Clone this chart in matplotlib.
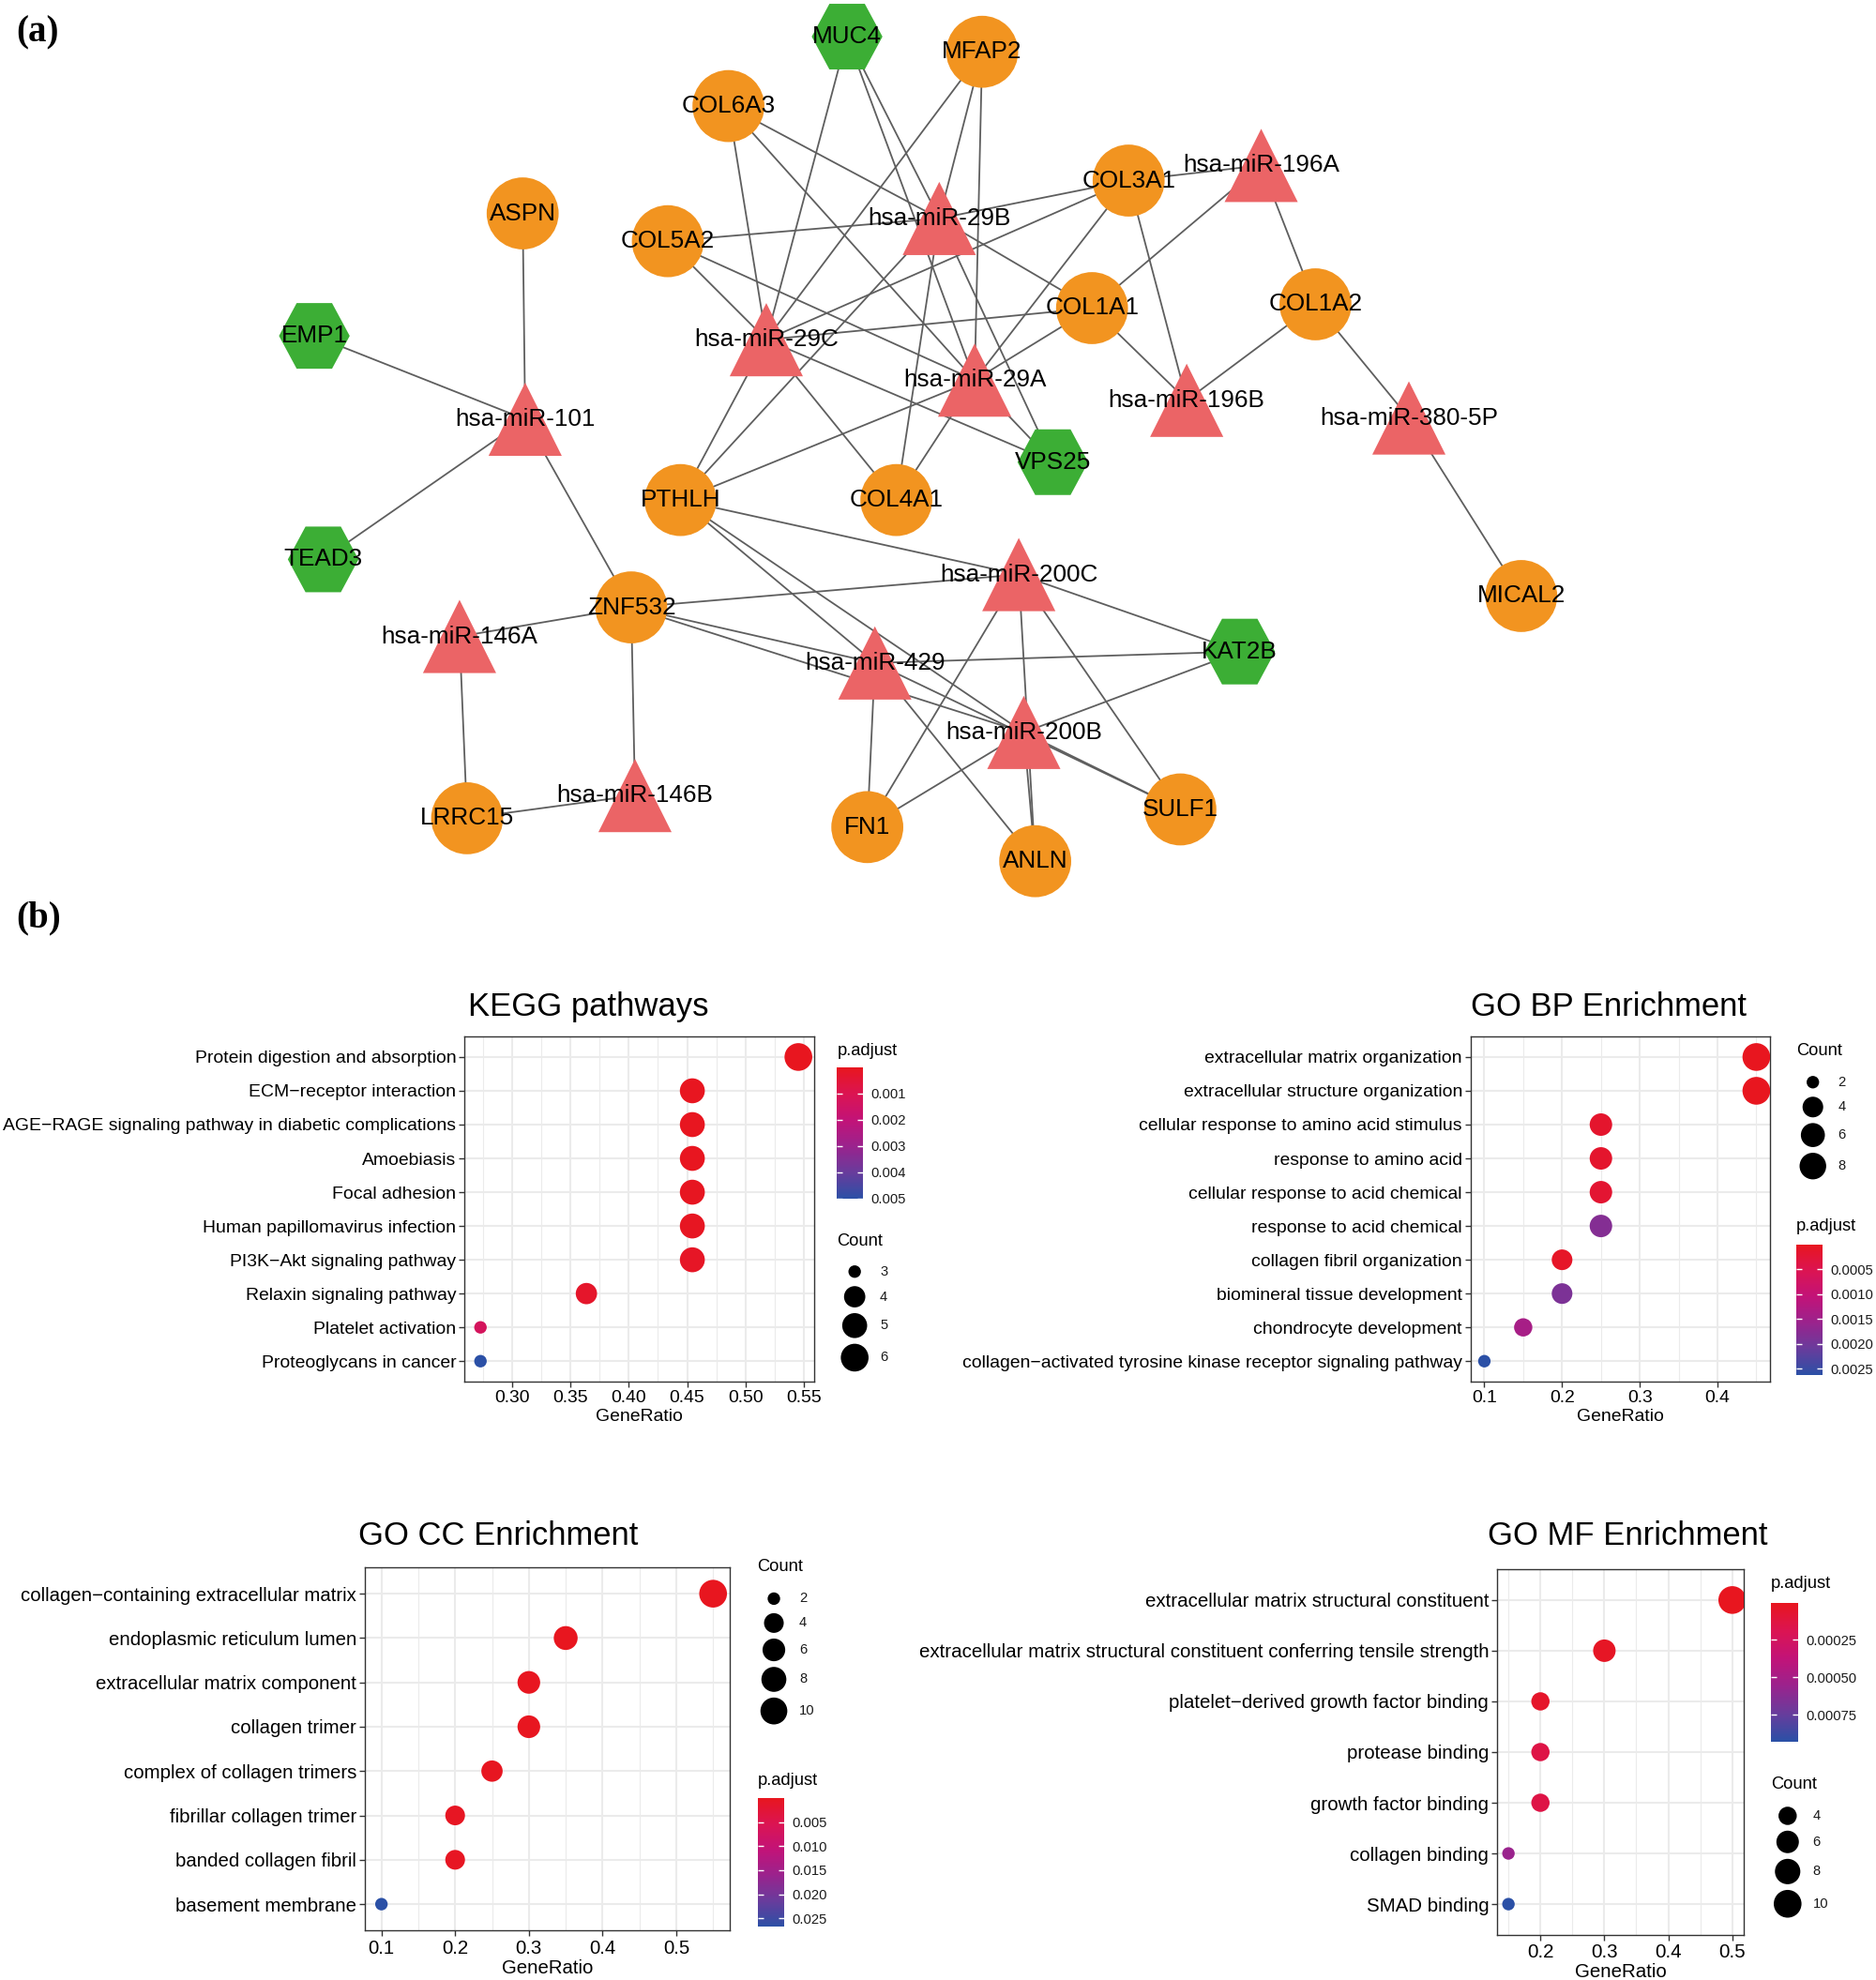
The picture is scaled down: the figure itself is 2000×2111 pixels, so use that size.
import numpy as np
import matplotlib
matplotlib.use("Agg")
import matplotlib.pyplot as plt
from matplotlib.colors import LinearSegmentedColormap, Normalize
from matplotlib.patches import Circle, Polygon

plt.rcParams['font.family'] = ['Liberation Sans', 'DejaVu Sans']

# ------------------------------------------------------------------ data
# network (a): node positions in layout units (1486 x 1568 canvas, y down)
node_names = ["MUC4", "MFAP2", "COL6A3", "ASPN", "COL5A2", "hsa-miR-29B", "COL3A1",
              "hsa-miR-196A", "EMP1", "hsa-miR-29C", "COL1A1", "COL1A2", "hsa-miR-29A",
              "hsa-miR-196B", "hsa-miR-380-5P", "hsa-miR-101", "VPS25", "PTHLH", "COL4A1",
              "TEAD3", "hsa-miR-200C", "MICAL2", "ZNF532", "hsa-miR-146A", "KAT2B",
              "hsa-miR-429", "hsa-miR-200B", "hsa-miR-146B", "LRRC15", "FN1", "SULF1", "ANLN"]
node_x = [671, 778, 577, 414, 529, 744, 894, 999, 249, 607, 865, 1042, 772, 940, 1116,
          416, 834, 539, 710, 256, 807, 1205, 500, 364, 982, 693, 811, 503, 370, 687, 935, 820]
node_y = [29, 41, 84, 169, 191, 173, 143, 131, 266, 269, 244, 241, 301, 317, 331, 332,
          366, 396, 396, 443, 455, 472, 481, 504, 516, 525, 580, 630, 648, 655, 641, 682]
node_kind = ["tf", "gene", "gene", "gene", "gene", "mir", "gene", "mir", "tf", "mir", "gene",
             "gene", "mir", "mir", "mir", "mir", "tf", "gene", "gene", "tf", "mir", "gene",
             "gene", "mir", "tf", "mir", "mir", "mir", "gene", "gene", "gene", "gene"]
edge_a = ["ASPN", "EMP1", "TEAD3", "ZNF532", "ZNF532", "ZNF532", "LRRC15", "LRRC15",
          "ZNF532", "ZNF532", "ZNF532", "PTHLH", "PTHLH", "PTHLH", "PTHLH", "PTHLH", "PTHLH",
          "KAT2B", "KAT2B", "KAT2B", "FN1", "FN1", "FN1", "ANLN", "ANLN", "ANLN",
          "SULF1", "SULF1", "SULF1", "MUC4", "MUC4", "MUC4", "MFAP2", "MFAP2", "MFAP2",
          "COL6A3", "COL6A3", "COL6A3", "COL5A2", "COL5A2", "COL5A2",
          "COL3A1", "COL3A1", "COL3A1", "COL3A1", "COL3A1",
          "COL1A1", "COL1A1", "COL1A1", "COL1A1", "COL1A1",
          "COL1A2", "COL1A2", "COL1A2", "MICAL2", "VPS25", "VPS25", "VPS25",
          "COL4A1", "COL4A1", "COL4A1"]
edge_b = ["hsa-miR-101", "hsa-miR-101", "hsa-miR-101", "hsa-miR-101", "hsa-miR-146A",
          "hsa-miR-146B", "hsa-miR-146A", "hsa-miR-146B", "hsa-miR-200C", "hsa-miR-429",
          "hsa-miR-200B", "hsa-miR-200C", "hsa-miR-429", "hsa-miR-200B", "hsa-miR-29C",
          "hsa-miR-29B", "hsa-miR-29A", "hsa-miR-200C", "hsa-miR-429", "hsa-miR-200B",
          "hsa-miR-429", "hsa-miR-200C", "hsa-miR-200B", "hsa-miR-429", "hsa-miR-200B",
          "hsa-miR-200C", "hsa-miR-200C", "hsa-miR-200B", "hsa-miR-429",
          "hsa-miR-29C", "hsa-miR-29B", "hsa-miR-29A", "hsa-miR-29C", "hsa-miR-29B", "hsa-miR-29A",
          "hsa-miR-29C", "hsa-miR-29B", "hsa-miR-29A", "hsa-miR-29C", "hsa-miR-29B", "hsa-miR-29A",
          "hsa-miR-29C", "hsa-miR-29B", "hsa-miR-29A", "hsa-miR-196A", "hsa-miR-196B",
          "hsa-miR-29C", "hsa-miR-29B", "hsa-miR-29A", "hsa-miR-196A", "hsa-miR-196B",
          "hsa-miR-196A", "hsa-miR-196B", "hsa-miR-380-5P", "hsa-miR-380-5P",
          "hsa-miR-29C", "hsa-miR-29B", "hsa-miR-29A",
          "hsa-miR-29C", "hsa-miR-29B", "hsa-miR-29A"]

# KEGG
kegg_terms = ["Protein digestion and absorption", "ECM\u2212receptor interaction",
              "AGE\u2212RAGE signaling pathway in diabetic complications", "Amoebiasis",
              "Focal adhesion", "Human papillomavirus infection", "PI3K\u2212Akt signaling pathway",
              "Relaxin signaling pathway", "Platelet activation", "Proteoglycans in cancer"]
kegg_ratio = [0.5455, 0.4545, 0.4545, 0.4545, 0.4545, 0.4545, 0.4545, 0.3636, 0.2727, 0.2727]
kegg_count = [6, 5, 5, 5, 5, 5, 5, 4, 3, 3]
kegg_padj = [1.2e-5, 4.0e-5, 4.0e-5, 4.5e-5, 6.0e-5, 8.0e-5, 1.5e-4, 2.6e-4, 1.3e-3, 5.02e-3]
kegg_xticks = [0.30, 0.35, 0.40, 0.45, 0.50, 0.55]
kegg_cticks = [0.001, 0.002, 0.003, 0.004, 0.005]
kegg_cticklabels = ["0.001", "0.002", "0.003", "0.004", "0.005"]
kegg_sbreaks = [3, 4, 5, 6]

# GO BP
bp_terms = ["extracellular matrix organization", "extracellular structure organization",
            "cellular response to amino acid stimulus", "response to amino acid",
            "cellular response to acid chemical", "response to acid chemical",
            "collagen fibril organization", "biomineral tissue development",
            "chondrocyte development",
            "collagen\u2212activated tyrosine kinase receptor signaling pathway"]
bp_ratio = [0.45, 0.45, 0.25, 0.25, 0.25, 0.25, 0.20, 0.20, 0.15, 0.10]
bp_count = [9, 9, 5, 5, 5, 5, 4, 4, 3, 2]
bp_padj = [5e-7, 5e-7, 1.5e-4, 1.5e-4, 2.0e-4, 1.8e-3, 1.0e-4, 1.9e-3, 1.4e-3, 2.63e-3]
bp_xticks = [0.1, 0.2, 0.3, 0.4]
bp_cticks = [0.0005, 0.0010, 0.0015, 0.0020, 0.0025]
bp_cticklabels = ["0.0005", "0.0010", "0.0015", "0.0020", "0.0025"]
bp_sbreaks = [2, 4, 6, 8]

# GO CC
cc_terms = ["collagen\u2212containing extracellular matrix", "endoplasmic reticulum lumen",
            "extracellular matrix component", "collagen trimer", "complex of collagen trimers",
            "fibrillar collagen trimer", "banded collagen fibril", "basement membrane"]
cc_ratio = [0.55, 0.35, 0.30, 0.30, 0.25, 0.20, 0.20, 0.10]
cc_count = [11, 7, 6, 6, 5, 4, 4, 2]
cc_padj = [1e-7, 1e-4, 2e-4, 2e-4, 3e-4, 5e-4, 5e-4, 0.0268]
cc_xticks = [0.1, 0.2, 0.3, 0.4, 0.5]
cc_cticks = [0.005, 0.010, 0.015, 0.020, 0.025]
cc_cticklabels = ["0.005", "0.010", "0.015", "0.020", "0.025"]
cc_sbreaks = [2, 4, 6, 8, 10]

# GO MF
mf_terms = ["extracellular matrix structural constituent",
            "extracellular matrix structural constituent conferring tensile strength",
            "platelet\u2212derived growth factor binding", "protease binding",
            "growth factor binding", "collagen binding", "SMAD binding"]
mf_ratio = [0.50, 0.30, 0.20, 0.20, 0.20, 0.15, 0.15]
mf_count = [10, 6, 4, 4, 4, 3, 3]
mf_padj = [6.3e-6, 3e-5, 5e-5, 1.5e-4, 1.5e-4, 5.6e-4, 9.27e-4]
mf_xticks = [0.2, 0.3, 0.4, 0.5]
mf_cticks = [0.00025, 0.00050, 0.00075]
mf_cticklabels = ["0.00025", "0.00050", "0.00075"]
mf_sbreaks = [4, 6, 8, 10]

# ------------------------------------------------------------------ style
W, H = 1486.0, 1568.0
C_GENE, C_TF, C_MIR, C_EDGE = "#F29420", "#3CAE35", "#EB6466", "#5E5E5E"
cmap = LinearSegmentedColormap.from_list(
    "padj", [(0.0, "#E8161F"), (0.2, "#DB1452"), (0.4, "#C21378"),
             (0.6, "#9A238D"), (0.8, "#683C9C"), (1.0, "#2B50A6")])
DMIN, DMAX = 9.6, 21.3   # point diameters (pt)


def rect(x0, y0, x1, y1):
    return [x0 / W, 1 - y1 / H, (x1 - x0) / W, (y1 - y0) / H]


def dsize(c, counts):
    t = (c - min(counts)) / (max(counts) - min(counts))
    return (DMIN + (DMAX - DMIN) * np.sqrt(t)) ** 2


fig = plt.figure(figsize=(20, 21.11), dpi=100)
ov = fig.add_axes([0, 0, 1, 1])
ov.set_xlim(0, W)
ov.set_ylim(H, 0)
ov.axis("off")

# ------------------------------------------------------------------ network
pos = {n: (x, y) for n, x, y in zip(node_names, node_x, node_y)}
for a, b in zip(edge_a, edge_b):
    (xa, ya), (xb, yb) = pos[a], pos[b]
    ov.plot([xa, xb], [ya, yb], color=C_EDGE, lw=1.3, zorder=1, solid_capstyle="butt")

R = 28.5
TW, TH = 58, 58
HW, HH = 56, 52
for n, x, y, k in zip(node_names, node_x, node_y, node_kind):
    if k == "gene":
        ov.add_patch(Circle((x, y), R, facecolor=C_GENE, edgecolor="none", zorder=2))
    elif k == "tf":
        verts = [(x - HW / 2, y), (x - HW / 4, y - HH / 2), (x + HW / 4, y - HH / 2),
                 (x + HW / 2, y), (x + HW / 4, y + HH / 2), (x - HW / 4, y + HH / 2)]
        ov.add_patch(Polygon(verts, closed=True, facecolor=C_TF, edgecolor="none", zorder=2))
    else:
        verts = [(x, y - TH / 2), (x - TW / 2, y + TH / 2), (x + TW / 2, y + TH / 2)]
        ov.add_patch(Polygon(verts, closed=True, facecolor=C_MIR, edgecolor="none", zorder=2))
    ov.text(x, y, n, ha="center", va="center", fontsize=18.8, color="black", zorder=3)

fig.text(13 / W, 1 - 26 / H, "(a)", ha="left", va="center", fontsize=28,
         fontweight="bold", family=["Liberation Serif", "DejaVu Serif"])
fig.text(13 / W, 1 - 727 / H, "(b)", ha="left", va="center", fontsize=28,
         fontweight="bold", family=["Liberation Serif", "DejaVu Serif"])


# ------------------------------------------------------------------ dot plots
def dotplot(box, terms, ratio, count, padj, xticks, xfmt, title, title_xy,
            cbar_box, cticks, cticklabels, ptitle_y, sbreaks, ctitle_y, key_x, key_y0, fs):
    ax = fig.add_axes(rect(*box))
    n = len(terms)
    yy = np.arange(n)
    norm = Normalize(min(padj), max(padj))
    sizes = [dsize(c, count) for c in count]
    ax.scatter(ratio, yy, s=sizes, c=padj, cmap=cmap, norm=norm, edgecolors="none", zorder=3)
    rng = max(ratio) - min(ratio)
    ax.set_xlim(min(ratio) - 0.05 * rng, max(ratio) + 0.05 * rng)
    ax.set_ylim(n - 1 + 0.6, -0.6)
    ax.set_yticks(yy)
    ax.set_yticklabels(terms, fontsize=fs, color="black")
    ax.set_xticks(xticks)
    ax.set_xticklabels([xfmt % v for v in xticks], fontsize=fs, color="black")
    step = xticks[1] - xticks[0]
    minors = [v + step / 2 for v in [xticks[0] - step] + list(xticks)]
    lo, hi = ax.get_xlim()
    ax.set_xticks([m for m in minors if lo < m < hi], minor=True)
    ax.tick_params(axis="x", which="minor", length=0)
    ax.tick_params(axis="both", which="major", length=4.5, width=1.0, color="#333333", pad=2)
    ax.grid(which="major", color="#EBEBEB", lw=1.5, zorder=0)
    ax.grid(which="minor", axis="x", color="#EBEBEB", lw=0.8, zorder=0)
    ax.set_axisbelow(True)
    for s in ax.spines.values():
        s.set_color("#333333")
        s.set_linewidth(1.0)
    ax.set_xlabel("GeneRatio", fontsize=fs, labelpad=2)
    fig.text(title_xy[0] / W, 1 - title_xy[1] / H, title, ha="center", va="center", fontsize=24.9)

    # colour bar
    x0, y0, x1, y1 = cbar_box
    cax = fig.add_axes(rect(x0, y0, x1, y1))
    edges = np.linspace(min(padj), max(padj), 257)
    mids = 0.5 * (edges[1:] + edges[:-1])
    cax.pcolormesh([0, 1], edges, mids[:, None], cmap=cmap, norm=norm, shading="flat")
    cax.set_ylim(max(padj), min(padj))
    cax.set_xlim(0, 1)
    cax.set_xticks([])
    cax.set_yticks(cticks)
    cax.set_yticklabels(cticklabels, fontsize=10.6, color="#1a1a1a")
    cax.tick_params(axis="y", direction="in", length=4, width=1.0, color="white",
                    left=True, right=True, labelleft=False, labelright=True, pad=6)
    for s in cax.spines.values():
        s.set_visible(False)
    ov.text(x0, ptitle_y, "p.adjust", ha="left", va="center", fontsize=13.2)

    # size legend
    ov.text(x0, ctitle_y, "Count", ha="left", va="center", fontsize=13.2)
    yk = key_y0
    prev_h = None
    for b in sbreaks:
        s = dsize(b, count)
        d_px = np.sqrt(s) / 0.72 / (2000 / W)  # diameter in layout units
        h = max(18.5, d_px + 4.5)
        if prev_h is not None:
            yk += (prev_h + h) / 2
        ov.scatter([key_x], [yk], s=s, color="black", edgecolors="none", zorder=3)
        ov.text(key_x + 20, yk, str(b), ha="left", va="center", fontsize=10.6, color="#1a1a1a")
        prev_h = h


dotplot((368, 821, 645, 1094), kegg_terms, kegg_ratio, kegg_count, kegg_padj, kegg_xticks,
        "%.2f", "KEGG pathways", (466, 797), (663, 845.5, 683.5, 949.5), kegg_cticks,
        kegg_cticklabels, 832, kegg_sbreaks, 983, 677, 1007, 13.95)
dotplot((1165, 821, 1402, 1094), bp_terms, bp_ratio, bp_count, bp_padj, bp_xticks,
        "%.1f", "GO BP Enrichment", (1274, 797), (1423, 985.5, 1444, 1089), bp_cticks,
        bp_cticklabels, 971, bp_sbreaks, 832, 1436, 857, 13.95)
dotplot((289, 1241, 578, 1529), cc_terms, cc_ratio, cc_count, cc_padj, cc_xticks,
        "%.1f", "GO CC Enrichment", (395, 1216), (600, 1424, 621, 1526), cc_cticks,
        cc_cticklabels, 1410, cc_sbreaks, 1241, 613, 1266, 14.65)
dotplot((1186, 1243, 1381, 1532), mf_terms, mf_ratio, mf_count, mf_padj, mf_xticks,
        "%.1f", "GO MF Enrichment", (1289, 1216), (1403, 1269.5, 1424, 1379), mf_cticks,
        mf_cticklabels, 1254, mf_sbreaks, 1413, 1416, 1438, 14.75)

fig.savefig("out.png", dpi=100, facecolor="white")
